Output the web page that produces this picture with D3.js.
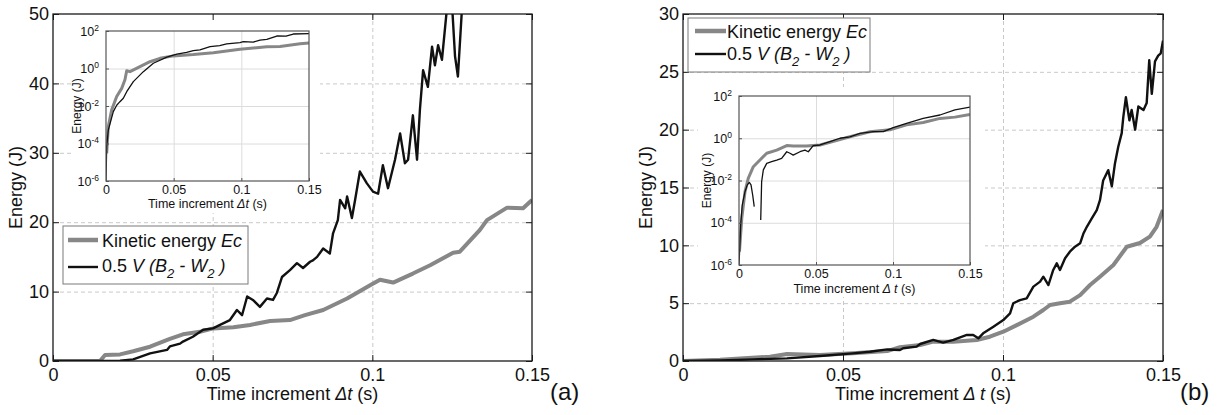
<!DOCTYPE html>
<html>
<head>
<meta charset="utf-8">
<script src="https://cdn.jsdelivr.net/npm/d3@7"></script>
<style>
  html, body { margin: 0; padding: 0; background: #fff; }
  svg { display: block; font-family: "Liberation Sans", Arial, Helvetica, sans-serif; }
</style>
</head>
<body>
<svg id="chart" width="1217" height="415"></svg>
<script>
// ---------------- data ----------------
const xTicks = [0, 0.05, 0.1, 0.15];
const xTickLabels = ["0", "0.05", "0.1", "0.15"];
const yTicksA = [0, 10, 20, 30, 40, 50];
const yTicksB = [0, 5, 10, 15, 20, 25, 30];
const logTicks = [1e-6, 1e-4, 1e-2, 1, 1e2];
const logTickExponents = ["-6", "-4", "-2", "0", "2"];

// panel (a): [time (s), energy (J)]
const kineticA = [[0,0],[0.0147,0],[0.0163,0.86],[0.0210,0.95],[0.0251,1.4],[0.0304,2.06],[0.0366,3.2],
  [0.0407,3.84],[0.0460,4.2],[0.0502,4.7],[0.0565,4.85],[0.0617,5.2],[0.0680,5.76],[0.0742,5.9],
  [0.0789,6.6],[0.0846,7.35],[0.0921,9.0],[0.0993,10.9],[0.1024,11.7],[0.1065,11.3],[0.1127,12.6],
  [0.1181,13.8],[0.1253,15.6],[0.1274,15.75],[0.1337,18.9],[0.1359,20.3],[0.1422,22.1],[0.1472,22.0],[0.15,23.2]];
const workA = [[0,0],[0.0147,0],[0.0210,0.05],[0.0251,0.24],[0.0304,1.1],[0.0357,1.6],[0.0366,2.1],
  [0.0398,2.5],[0.0407,2.8],[0.0438,3.5],[0.0470,4.5],[0.0501,4.7],[0.0523,5.2],[0.0554,5.9],
  [0.0576,7.35],[0.0592,6.6],[0.0608,9.3],[0.0626,8.8],[0.0648,7.8],[0.0670,9.0],[0.0689,8.8],
  [0.0701,9.8],[0.0717,12.1],[0.0742,13.1],[0.0764,14.1],[0.0783,13.4],[0.0805,14.3],[0.0814,14.5],
  [0.0827,15.0],[0.0846,16.2],[0.0867,15.5],[0.0877,18.4],[0.0892,20.3],[0.0899,23.2],[0.0915,22.0],
  [0.0921,23.7],[0.0936,20.6],[0.0946,23.2],[0.0961,27.3],[0.0983,25.6],[0.1002,24.4],[0.1018,24.1],
  [0.1033,28.2],[0.1049,24.9],[0.1071,29.0],[0.1087,32.8],[0.1102,28.5],[0.1112,29.0],[0.1127,35.4],
  [0.1140,29.0],[0.1149,36.2],[0.1159,41.9],[0.1174,39.5],[0.1187,45.3],[0.1196,42.6],[0.1206,45.5],
  [0.1218,43.4],[0.1234,51],[0.1250,51],[0.1259,43.9],[0.1268,41.0],[0.1281,51]];
const kineticLogA = [[0.0005,3.0e-5],[0.0017,7.9e-4],[0.0042,6.2e-3],[0.0079,0.032],[0.0116,0.087],
  [0.0140,0.25],[0.0153,0.76],[0.0177,0.68],[0.0251,1.26],[0.0325,2.3],[0.0399,3.5],[0.0497,4.7],
  [0.0645,5.5],[0.0793,6.9],[0.0990,10.5],[0.1188,14.5],[0.1286,15],[0.1434,21],[0.15,23.2]];
const workLogA = [[0,1e-6],[0.0005,6.8e-5],[0.0017,5.2e-4],[0.0054,5.0e-3],[0.0079,0.011],[0.0103,0.017],
  [0.0128,0.026],[0.0153,0.058],[0.0202,0.2],[0.0276,0.68],[0.0350,1.9],[0.0449,4.0],[0.0523,5.8],
  [0.0596,7.2],[0.0645,8.9],[0.0694,9.8],[0.0769,14.5],[0.0840,16.5],[0.0892,20.4],[0.0990,24],
  [0.1015,26.9],[0.1088,25.5],[0.1138,33],[0.1188,36],[0.1262,54],[0.1330,53],[0.1384,69],[0.15,72]];

// panel (b): [time (s), energy (J)]
const kineticB = [[0,0],[0.0116,0.1],[0.0272,0.37],[0.0325,0.6],[0.0428,0.52],[0.0531,0.66],[0.0638,0.86],
  [0.0678,1.2],[0.0741,1.38],[0.0782,1.67],[0.0845,1.67],[0.0918,1.82],[0.0959,2.1],[0.1001,2.53],
  [0.1043,3.1],[0.1095,3.83],[0.1126,4.41],[0.1147,4.84],[0.1178,4.99],[0.1209,5.13],[0.1241,5.7],
  [0.1272,6.57],[0.1303,7.29],[0.1345,8.3],[0.1387,9.88],[0.1428,10.2],[0.1459,10.75],[0.1480,11.6],[0.15,13.05]];
const workB = [[0,0],[0.0116,0.05],[0.0219,0.14],[0.0325,0.23],[0.0428,0.43],[0.0531,0.66],[0.0584,0.8],
  [0.0638,1.0],[0.0678,0.95],[0.0688,1.1],[0.0730,1.24],[0.0741,1.47],[0.0782,1.82],[0.0813,1.59],
  [0.0845,1.82],[0.0887,2.25],[0.0907,2.25],[0.0923,1.96],[0.0938,2.39],[0.0970,2.97],[0.1001,3.54],
  [0.1022,4.12],[0.1032,4.99],[0.1053,5.27],[0.1074,5.42],[0.1095,6.43],[0.1116,6.86],[0.1126,7.29],
  [0.1142,6.57],[0.1157,7.87],[0.1168,8.44],[0.1178,7.87],[0.1194,8.88],[0.1209,9.45],[0.1225,9.88],
  [0.1241,10.17],[0.1251,11.0],[0.1262,11.6],[0.1277,12.3],[0.1293,13.05],[0.1303,13.9],[0.1313,15.6],
  [0.1329,16.5],[0.1340,15.1],[0.1350,17.1],[0.1360,18.5],[0.1371,19.7],[0.1376,21.1],[0.1384,22.8],
  [0.1395,20.8],[0.1402,21.7],[0.1413,20.0],[0.1423,22.0],[0.1439,21.7],[0.1449,22.3],[0.1457,26.0],
  [0.1465,23.1],[0.1475,25.9],[0.1485,26.4],[0.1493,26.6],[0.15,27.7]];
const kineticLogB = [[0.0003,4.3e-6],[0.0018,1.6e-4],[0.0039,2.95e-3],[0.0060,0.0126],[0.0093,0.045],
  [0.0136,0.093],[0.0180,0.195],[0.0245,0.275],[0.0310,0.45],[0.0352,0.43],[0.0439,0.43],[0.0526,0.48],
  [0.0591,0.65],[0.0720,1.17],[0.0850,2.04],[0.0980,2.5],[0.1088,4.3],[0.1196,5.6],[0.1305,8.7],
  [0.1402,10],[0.15,13.5]];
// null marks the stretch where the quantity is negative and has no logarithm
const workLogB = [[0,1e-6],[0.0011,7.9e-5],[0.0021,6.9e-4],[0.0039,2.95e-3],[0.0054,6.2e-3],[0.0067,8.1e-3],
  [0.0078,6.2e-3],[0.0089,2.0e-3],[0.0099,5.8e-4],[0.0120,null],[0.0141,1.35e-4],[0.0147,8.7e-3],
  [0.0158,0.032],[0.0180,0.065],[0.0212,0.078],[0.0245,0.093],[0.0277,0.112],[0.0310,0.23],[0.0331,0.195],
  [0.0352,0.16],[0.0396,0.23],[0.0428,0.275],[0.0450,0.23],[0.0482,0.45],[0.0526,0.48],[0.0591,0.69],
  [0.0655,1.0],[0.0720,1.17],[0.0785,1.7],[0.0872,2.04],[0.0937,2.04],[0.1001,3.16],[0.1088,5.1],
  [0.1196,8.7],[0.1305,12.6],[0.1402,21.9],[0.15,29.5]];

// text fragments
const legendKinetic = [{t: "Kinetic energy "}, {t: "Ec", it: true}];
const legendWork = [{t: "0.5 "}, {t: "V (B", it: true}, {t: "2", it: true, sub: true},
  {t: " - W", it: true}, {t: "2", it: true, sub: true}, {t: " )", it: true}];
const xLabelA = [{t: "Time increment "}, {t: "\u0394t", it: true}, {t: " (s)"}];
const xLabelB = [{t: "Time increment "}, {t: "\u0394 t", it: true}, {t: " (s)"}];
const yLabelText = "Energy (J)";

// ---------------- drawing ----------------
const GRAY = "#878787";
const INK = "#111";
const svg = d3.select("#chart");
let clipId = 0;

function rich(textSel, parts, subSize, subShift) {
  let shift = 0;
  parts.forEach(p => {
    const ts = textSel.append("tspan").text(p.t);
    if (p.it) ts.attr("font-style", "italic");
    const target = p.sub ? subShift : 0;
    if (target !== shift) { ts.attr("dy", target - shift); shift = target; }
    if (p.sub) ts.attr("font-size", subSize);
  });
}

function clipRect(x0, y0, w, h) {
  const id = "clip" + (clipId++);
  svg.append("clipPath").attr("id", id).append("rect")
    .attr("x", x0).attr("y", y0).attr("width", w).attr("height", h);
  return "url(#" + id + ")";
}

function drawPanel(p) {
  const g = svg.append("g");
  const x = d3.scaleLinear().domain([0, 0.15]).range([p.L, p.R]);
  const y = d3.scaleLinear().domain([0, p.yMax]).range([p.B, p.T]);
  const H = p.B - p.T, W = p.R - p.L;

  // dashed grid
  g.append("g").attr("transform", `translate(0,${p.B})`)
    .call(d3.axisBottom(x).tickValues(xTicks.slice(1, -1)).tickSize(-H).tickFormat(""))
    .call(s => { s.select(".domain").remove();
      s.selectAll("line").attr("stroke", "#c9c9c9").attr("stroke-dasharray", "4,3"); });
  g.append("g").attr("transform", `translate(${p.L},0)`)
    .call(d3.axisLeft(y).tickValues(p.yTicks.slice(1, -1)).tickSize(-W).tickFormat(""))
    .call(s => { s.select(".domain").remove();
      s.selectAll("line").attr("stroke", "#c9c9c9").attr("stroke-dasharray", "4,3"); });

  // white backing for the inset and its labels
  g.append("rect").attr("x", p.cover.x).attr("y", p.cover.y)
    .attr("width", p.cover.w).attr("height", p.cover.h).attr("fill", "#fff");

  // curves
  const line = d3.line().x(d => x(d[0])).y(d => y(d[1]));
  const curves = g.append("g").attr("clip-path", clipRect(p.L, p.T, W, H));
  curves.append("path").datum(p.kinetic).attr("d", line)
    .attr("fill", "none").attr("stroke", GRAY).attr("stroke-width", 4).attr("stroke-linejoin", "round");
  curves.append("path").datum(p.work).attr("d", line)
    .attr("fill", "none").attr("stroke", INK).attr("stroke-width", 2.4).attr("stroke-linejoin", "round");

  // axes box and inward ticks
  g.append("rect").attr("x", p.L).attr("y", p.T).attr("width", W).attr("height", H)
    .attr("fill", "none").attr("stroke", "#1a1a1a").attr("stroke-width", 1.3);
  const styleAxis = s => {
    s.select(".domain").remove();
    s.selectAll("line").attr("stroke", "#1a1a1a");
    s.selectAll("text").attr("font-size", 18).attr("fill", INK)
      .attr("font-family", '"Liberation Sans", Arial, sans-serif');
  };
  g.append("g").attr("transform", `translate(0,${p.B})`)
    .call(d3.axisBottom(x).tickValues(xTicks).tickFormat((d, i) => xTickLabels[i])
      .tickSizeInner(-6).tickSizeOuter(0).tickPadding(7)).call(styleAxis);
  g.append("g").attr("transform", `translate(0,${p.T})`)
    .call(d3.axisTop(x).tickValues(xTicks).tickFormat("").tickSizeInner(-6).tickSizeOuter(0)).call(styleAxis);
  g.append("g").attr("transform", `translate(${p.L},0)`)
    .call(d3.axisLeft(y).tickValues(p.yTicks).tickFormat(d3.format("d"))
      .tickSizeInner(-6).tickSizeOuter(0).tickPadding(4)).call(styleAxis);
  g.append("g").attr("transform", `translate(${p.R},0)`)
    .call(d3.axisRight(y).tickValues(p.yTicks).tickFormat("").tickSizeInner(-6).tickSizeOuter(0)).call(styleAxis);

  // axis titles
  rich(g.append("text").attr("x", (p.L + p.R) / 2).attr("y", 399.5)
    .attr("text-anchor", "middle").attr("font-size", 18).attr("fill", INK), p.xLabel, 13, 6);
  g.append("text").attr("transform", `translate(${p.L - 31},${(p.T + p.B) / 2}) rotate(-90)`)
    .attr("text-anchor", "middle").attr("font-size", 18).attr("fill", INK).text(yLabelText);
  g.append("text").attr("x", p.tagX).attr("y", 400).attr("font-size", 24).attr("fill", INK).text(p.tag);

  // legend
  const lg = p.legend;
  const leg = g.append("g");
  leg.append("rect").attr("x", lg.x).attr("y", lg.y).attr("width", lg.w).attr("height", lg.h)
    .attr("fill", "#fff").attr("stroke", "#7a7a7a").attr("stroke-width", 1);
  leg.append("line").attr("x1", lg.lx0).attr("x2", lg.lx1).attr("y1", lg.r1).attr("y2", lg.r1)
    .attr("stroke", GRAY).attr("stroke-width", 4.5);
  leg.append("line").attr("x1", lg.lx0).attr("x2", lg.lx1).attr("y1", lg.r2).attr("y2", lg.r2)
    .attr("stroke", INK).attr("stroke-width", 2.4);
  rich(leg.append("text").attr("x", lg.tx).attr("y", lg.b1).attr("font-size", 18).attr("fill", INK),
    legendKinetic, 13, 6);
  rich(leg.append("text").attr("x", lg.tx).attr("y", lg.b2).attr("font-size", 18).attr("fill", INK),
    legendWork, 13, 6);

  drawInset(g, p.inset, p.kineticLog, p.workLog);
}

function drawInset(parent, q, kin, work) {
  const g = parent.append("g");
  const W = q.R - q.L, H = q.B - q.T;
  const x = d3.scaleLinear().domain([0, 0.15]).range([q.L, q.R]);
  const y = d3.scaleLog().domain([1e-6, 1e2]).range([q.B, q.T]);

  g.append("rect").attr("x", q.L).attr("y", q.T).attr("width", W).attr("height", H).attr("fill", "#fff");
  // light grid
  g.append("g").attr("transform", `translate(0,${q.B})`)
    .call(d3.axisBottom(x).tickValues(xTicks.slice(1, -1)).tickSize(-H).tickFormat(""))
    .call(s => { s.select(".domain").remove(); s.selectAll("line").attr("stroke", "#dcdcdc"); });
  g.append("g").attr("transform", `translate(${q.L},0)`)
    .call(d3.axisLeft(y).tickValues(logTicks.slice(1, -1)).tickSize(-W).tickFormat(""))
    .call(s => { s.select(".domain").remove(); s.selectAll("line").attr("stroke", "#dcdcdc"); });

  const line = d3.line().defined(d => d[1] != null).x(d => x(d[0])).y(d => y(d[1]));
  const c = g.append("g").attr("clip-path", clipRect(q.L, q.T, W, H));
  c.append("path").datum(kin).attr("d", line).attr("fill", "none")
    .attr("stroke", GRAY).attr("stroke-width", 3).attr("stroke-linejoin", "round");
  c.append("path").datum(work).attr("d", line).attr("fill", "none")
    .attr("stroke", INK).attr("stroke-width", 1.3).attr("stroke-linejoin", "round");

  g.append("rect").attr("x", q.L).attr("y", q.T).attr("width", W).attr("height", H)
    .attr("fill", "none").attr("stroke", "#555").attr("stroke-width", 1.2);

  const st = s => {
    s.select(".domain").remove();
    s.selectAll("line").attr("stroke", "#555");
    s.selectAll("text").attr("font-size", 12.5).attr("fill", INK)
      .attr("font-family", '"Liberation Sans", Arial, sans-serif');
  };
  g.append("g").attr("transform", `translate(0,${q.B})`)
    .call(d3.axisBottom(x).tickValues(xTicks).tickFormat((d, i) => xTickLabels[i])
      .tickSizeInner(-3).tickSizeOuter(0).tickPadding(4)).call(st);
  g.append("g").attr("transform", `translate(${q.L},0)`)
    .call(d3.axisLeft(y).tickValues(logTicks).tickFormat("")
      .tickSizeInner(-3).tickSizeOuter(0).tickPadding(7)).call(st)
    .call(s => s.selectAll(".tick text").each(function(d, i) {
      const t = d3.select(this);
      t.append("tspan").text("10");
      t.append("tspan").attr("dy", -5).attr("font-size", 8.5).text(logTickExponents[i]);
    }));

  rich(g.append("text").attr("x", (q.L + q.R) / 2).attr("y", q.B + q.xlY)
    .attr("text-anchor", "middle").attr("font-size", 12.5).attr("fill", INK), q.xLabel, 9, 4);
  g.append("text").attr("transform", `translate(${q.L - q.ylX},${(q.T + q.B) / 2}) rotate(-90)`)
    .attr("text-anchor", "middle").attr("font-size", 12).attr("fill", INK).text(yLabelText);
}

drawPanel({
  L: 53, R: 532, T: 14, B: 361, yMax: 50, yTicks: yTicksA,
  kinetic: kineticA, work: workA, kineticLog: kineticLogA, workLog: workLogA,
  xLabel: xLabelA, tag: "(a)", tagX: 550,
  legend: {x: 63, y: 226, w: 185, h: 58, lx0: 68, lx1: 98, r1: 240, r2: 267, tx: 102, b1: 246.5, b2: 272},
  inset: {L: 106, R: 309, T: 31, B: 181, xLabel: xLabelA, xlY: 27, ylX: 25},
  cover: {x: 72, y: 15, w: 248, h: 198}
});
drawPanel({
  L: 683, R: 1163, T: 14, B: 361, yMax: 30, yTicks: yTicksB,
  kinetic: kineticB, work: workB, kineticLog: kineticLogB, workLog: workLogB,
  xLabel: xLabelB, tag: "(b)", tagX: 1180,
  legend: {x: 688, y: 18, w: 182, h: 54, lx0: 695, lx1: 726, r1: 31, r2: 54, tx: 727, b1: 37.5, b2: 60},
  inset: {L: 739, R: 970, T: 96, B: 265, xLabel: xLabelB, xlY: 28, ylX: 28},
  cover: {x: 698, y: 87, w: 287, h: 210}
});
</script>
</body>
</html>
